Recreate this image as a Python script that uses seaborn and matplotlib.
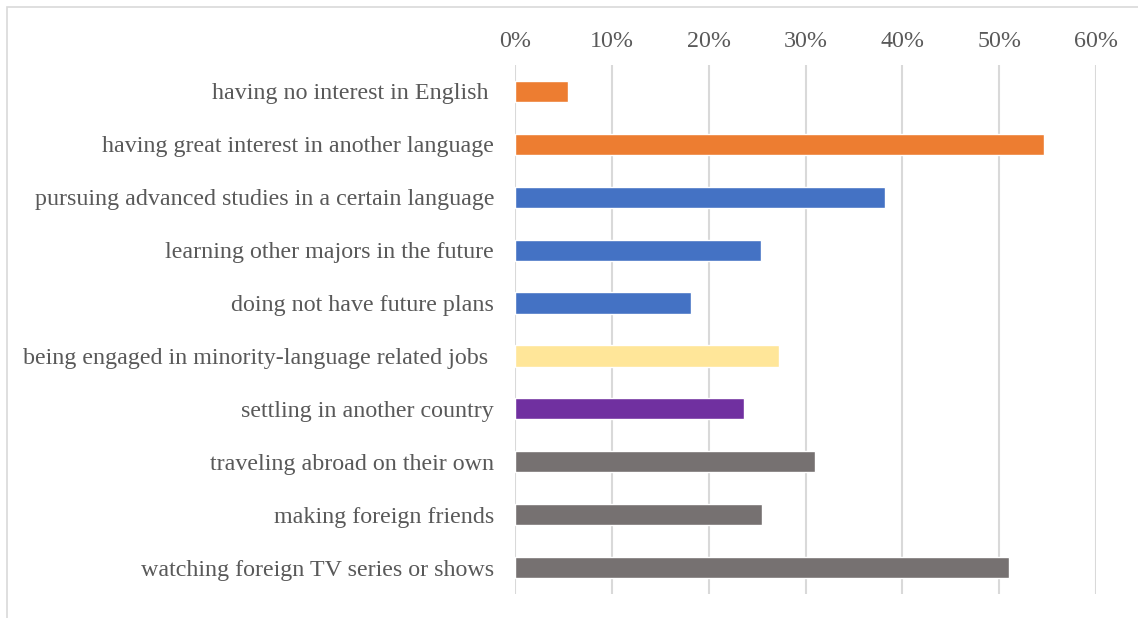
import matplotlib
matplotlib.use("Agg")
import matplotlib.pyplot as plt
from matplotlib.patches import Rectangle
from matplotlib.ticker import PercentFormatter
import seaborn as sns

# Survey responses: share of students for each reason / plan
categories = [
    "having no interest in English ",
    "having great interest in another language",
    "pursuing advanced studies in a certain language",
    "learning other majors in the future",
    "doing not have future plans",
    "being engaged in minority-language related jobs ",
    "settling in another country",
    "traveling abroad on their own",
    "making foreign friends",
    "watching foreign TV series or shows",
]
shares = [0.055, 0.546, 0.382, 0.254, 0.182, 0.273, 0.237, 0.310, 0.255, 0.510]
bar_colors = [
    "#ED7D31", "#ED7D31",
    "#4472C4", "#4472C4", "#4472C4",
    "#FFE699",
    "#7030A0",
    "#767171", "#767171", "#767171",
]
x_ticks = [0, 0.1, 0.2, 0.3, 0.4, 0.5, 0.6]

sns.set_theme(style="white")
plt.rcParams["font.family"] = ["Liberation Serif", "DejaVu Serif"]

fig = plt.figure(figsize=(11.38, 6.18), dpi=100)
ax = fig.add_axes([515 / 1138, 1 - 594 / 618, (1096 - 515) / 1138, (594 - 65) / 618])

sns.barplot(
    x=shares, y=categories, hue=categories, palette=bar_colors,
    orient="h", width=0.4, legend=False, saturation=1, ax=ax,
)

ax.set_xlim(0, 0.6)
ax.set_xticks(x_ticks)
ax.xaxis.set_major_formatter(PercentFormatter(1.0, decimals=0))
ax.xaxis.tick_top()
ax.set_xlabel("")
ax.set_ylabel("")
ax.tick_params(axis="x", length=0, pad=9.5, labelsize=17.3, labelcolor="#595959")
ax.tick_params(axis="y", length=0, pad=15, labelsize=17.3, labelcolor="#595959")
ax.grid(axis="x", color="#d9d9d9", linewidth=1.5)
ax.grid(axis="y", visible=False)
ax.set_axisbelow(True)
for side in ax.spines.values():
    side.set_visible(False)

# Light frame around the chart area (right and bottom edges lie past the canvas)
fig.patches.append(Rectangle(
    (7 / 1138, -0.05), 1.1, 1.05 - 7 / 618,
    transform=fig.transFigure, fill=False, edgecolor="#d9d9d9", linewidth=1.2,
))

fig.savefig("out.png", dpi=100, facecolor="white")
